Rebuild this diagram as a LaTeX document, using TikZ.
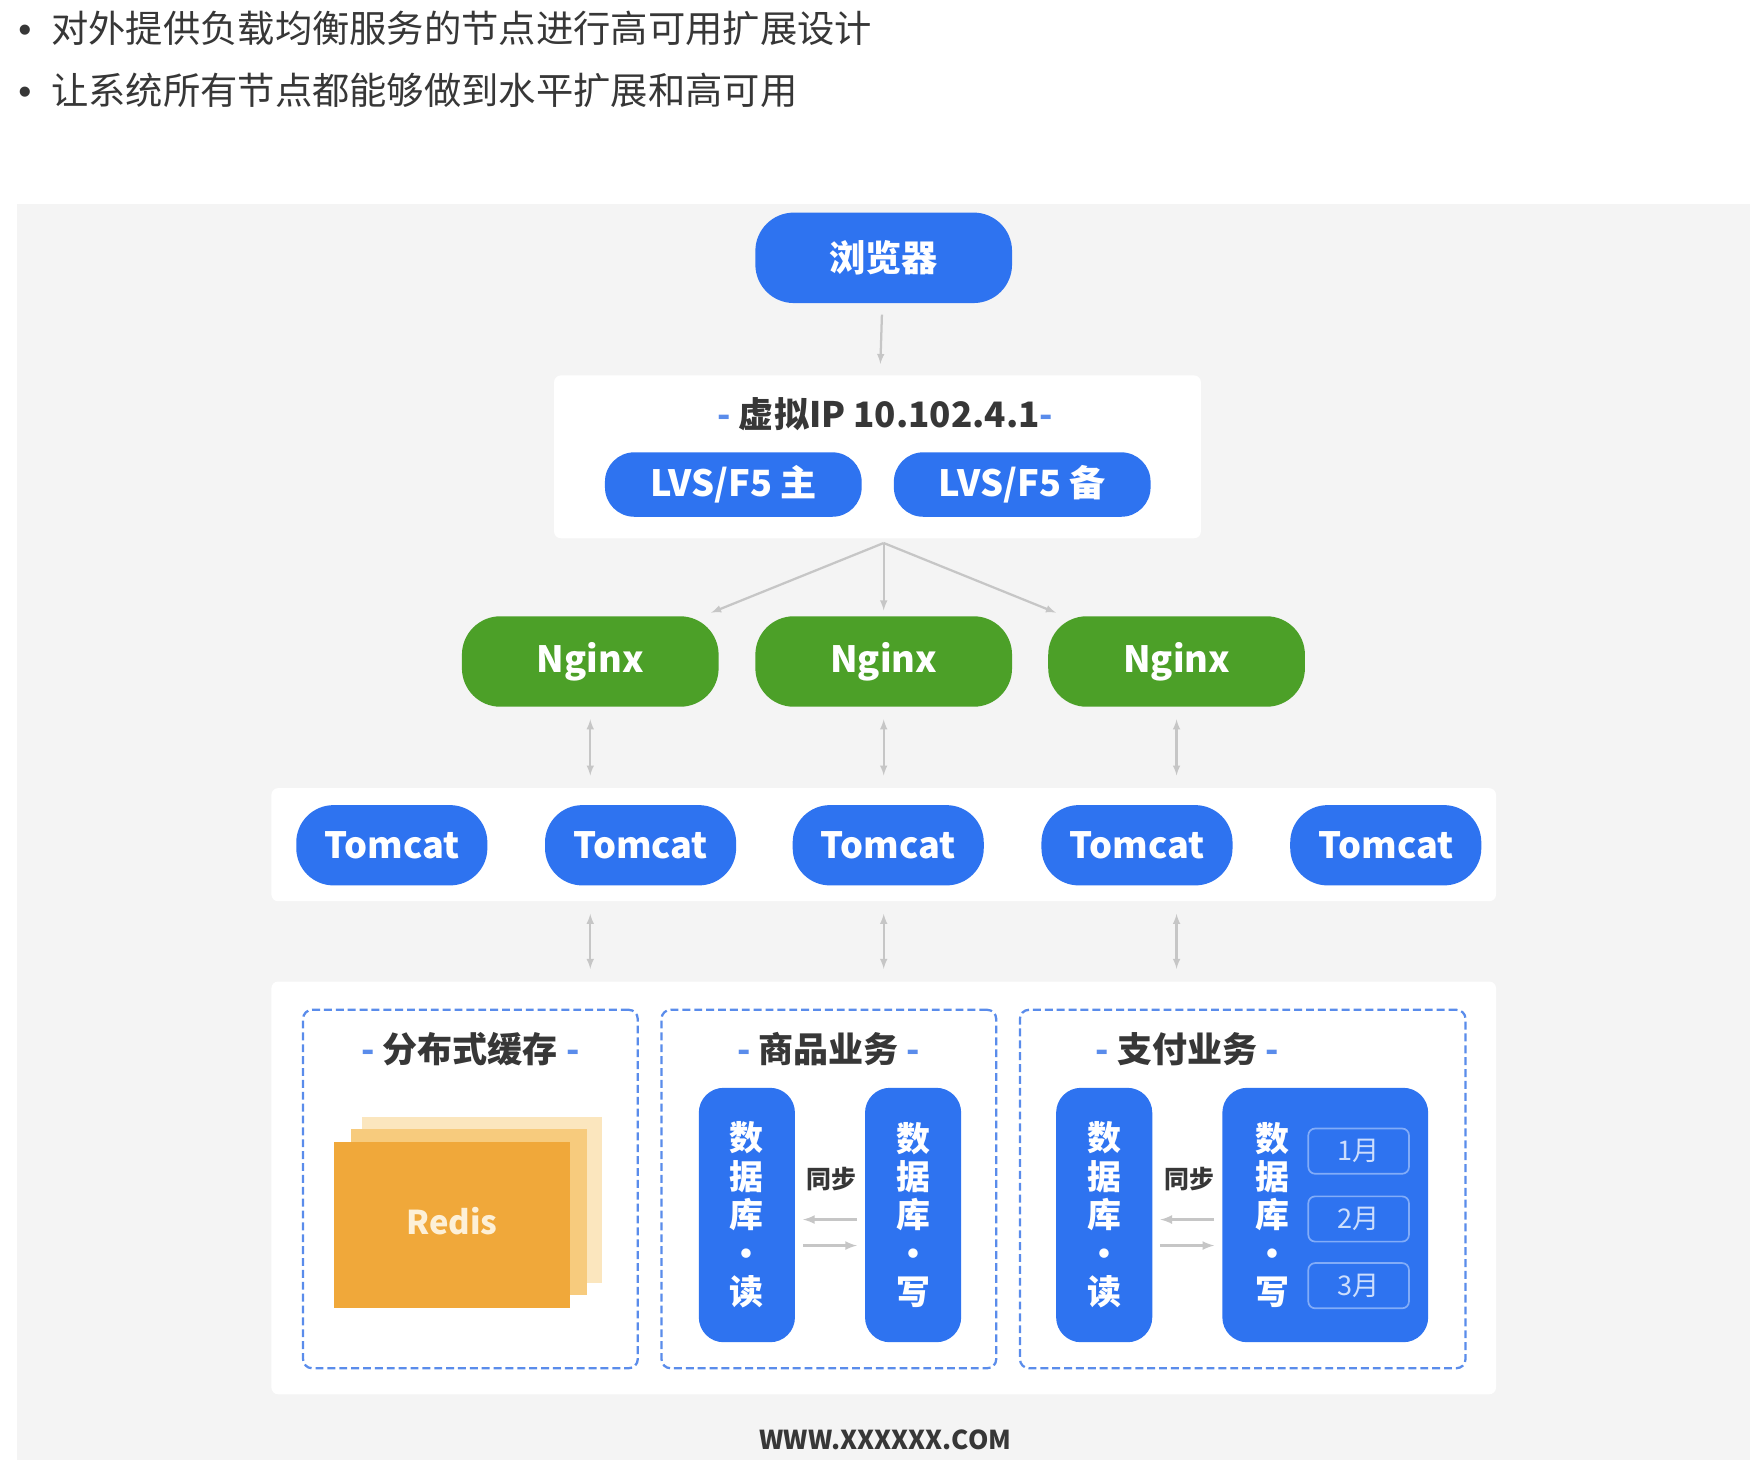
\documentclass[tikz,border=0pt]{standalone}
\usepackage{fontspec}
\setmainfont{Noto Sans CJK SC}
\newfontfamily\bulletfont{Liberation Sans}
\usetikzlibrary{positioning}
\definecolor{pillblue}{RGB}{46,115,240}
\definecolor{pillgreen}{RGB}{76,160,40}
\definecolor{panelgray}{RGB}{244,244,244}
\definecolor{linegray}{RGB}{198,198,198}
\definecolor{dashblue}{RGB}{90,140,235}
\definecolor{textdark}{RGB}{55,55,55}
\definecolor{redisfront}{RGB}{240,168,58}
\definecolor{redismid}{RGB}{247,203,125}
\definecolor{redisback}{RGB}{251,230,190}
\definecolor{redistext}{RGB}{253,240,215}
\definecolor{monthline}{RGB}{130,172,248}
\definecolor{monthtext}{RGB}{205,222,253}
\newcommand{\setfs}[1]{\fontsize{#1}{#1}\selectfont}
\newcommand{\grouptitle}[1]{\textcolor{dashblue}{-}\ #1\ \textcolor{dashblue}{-}}

\begin{document}
\begin{tikzpicture}[x=1pt,y=1pt,
  pill/.style={rectangle,rounded corners=34pt,fill=pillblue,text=white,font=\bfseries\setfs{32},minimum width=227pt,minimum height=80pt,inner sep=0pt},
  ngx/.style={pill,fill=pillgreen},
  lvs/.style={pill,minimum height=57pt,rounded corners=26pt},
  tomcat/.style={pill,minimum width=169pt,minimum height=71pt,rounded corners=33pt},
  dbcol/.style={rectangle,rounded corners=22pt,fill=pillblue,text=white,font=\bfseries\fontsize{30}{34}\selectfont,minimum width=85pt,minimum height=225pt,align=center,inner sep=0pt},
  whitebox/.style={rectangle,rounded corners=6pt,fill=white,inner sep=0pt},
  groupbox/.style={rectangle,rounded corners=8pt,draw=dashblue,dash pattern=on 7pt off 3.5pt,line width=2pt,inner sep=0pt,minimum height=317pt},
  title/.style={text=textdark,font=\bfseries\setfs{31}},
  month/.style={rectangle,rounded corners=6pt,draw=monthline,line width=1.5pt,text=monthtext,font=\setfs{24},minimum width=89pt,minimum height=40pt},
  conn/.style={draw=linegray,line width=2pt,-latex},
  dconn/.style={conn,latex-latex,shorten <=11pt,shorten >=11pt},
  sync/.style={draw=linegray,line width=2.5pt,-latex,shorten <=7pt,shorten >=7pt}]
\useasboundingbox (0,0) rectangle (1560,-1291);
\fill[white] (0,0) rectangle (1560,-1291);
\fill[panelgray] (15,-180) rectangle (1548,-1291);
\node[anchor=west,inner sep=0pt,text=textdark,font=\setfs{33}] (pt1) at (14,-25) {\makebox[31pt][l]{\hspace{2pt}\bulletfont •}对外提供负载均衡服务的节点进行高可用扩展设计};
\node[anchor=west,inner sep=0pt,text=textdark,font=\setfs{33}] (pt2) at (14,-80) {\makebox[31pt][l]{\hspace{2pt}\bulletfont •}让系统所有节点都能够做到水平扩展和高可用};
\node[pill] (browser) at (781.5,-228) {浏览器};
\node[whitebox,minimum width=572pt,minimum height=144pt] (vipbox) at (776,-404) {};
\node[title] (vip) at (783,-366) {\textcolor{dashblue}{-}\ 虚拟IP 10.102.4.1\textcolor{dashblue}{-}};
\node[lvs] (lvsmain) at (648.5,-428.5) {LVS/F5 主};
\node[lvs] (lvsbak) at (904,-428.5) {LVS/F5 备};
\node[ngx] (ng1) at (522,-585) {Nginx};
\node[ngx] (ng2) at (781.5,-585) {Nginx};
\node[ngx] (ng3) at (1040.5,-585) {Nginx};
\node[whitebox,minimum width=1083pt,minimum height=100pt] (tcbox) at (781.5,-747) {};
\foreach \i/\x in {1/346.5,2/566.5,3/785.5,4/1005.5,5/1225.5}
  \node[tomcat] (tc\i) at (\x,-747.5) {Tomcat};
\node[whitebox,minimum width=1083pt,minimum height=365pt] (dbbox) at (781.5,-1050.5) {};
\node[groupbox,minimum width=296pt] (cache) at (416,-1051.5) {};
\node[groupbox,minimum width=296pt] (goods) at (733,-1051.5) {};
\node[groupbox,minimum width=394pt] (pay) at (1099,-1051.5) {};
\node[title] (t1) at (416,-928) {\grouptitle{分布式缓存}};
\node[title] (t2) at (733,-928) {\grouptitle{商品业务}};
\node[title] (t3) at (1050,-928) {\grouptitle{支付业务}};
\node[fill=redisback,minimum width=212pt,minimum height=147pt,inner sep=0pt] (rsback) at (426,-1061.5) {};
\node[fill=redismid,minimum width=209pt,minimum height=147pt,inner sep=0pt] (rsmid) at (414.5,-1071.5) {};
\node[fill=redisfront,minimum width=209pt,minimum height=147pt,inner sep=0pt,text=redistext,font=\bfseries\setfs{29}] (redis) at (399.5,-1083.5) {\raisebox{7pt}{Redis}};
\node[dbcol] (rd1) at (660.5,-1074.5) {数\\据\\库\\·\\读};
\node[dbcol] (wr1) at (807.5,-1074.5) {数\\据\\库\\·\\写};
\node[dbcol] (rd2) at (976.5,-1074.5) {数\\据\\库\\·\\读};
\node[dbcol,minimum width=182pt] (wr2) at (1172,-1074.5) {};
\node[text=white,font=\bfseries\fontsize{30}{34}\selectfont,align=center,inner sep=0pt] (wr2lbl) at (1125,-1074.5) {数\\据\\库\\·\\写};
\foreach \m/\y in {1/-1018,2/-1078,3/-1137}
  \node[month] (mon\m) at (1201.5,\y) {\m 月};
\node[text=textdark,font=\bfseries\setfs{22}] (sy1) at (735,-1043) {同步};
\node[text=textdark,font=\bfseries\setfs{22}] (sy2) at (1052,-1043) {同步};
\node[text=textdark,font=\bfseries\setfs{23}] (site) at (783,-1273) {WWW.XXXXXX.COM};
\draw[conn,shorten <=10pt,shorten >=10pt] (browser) -- (vipbox);
\path (browser |- vipbox.south) ++(0,-4) coordinate (fan);
\draw[conn,shorten >=8pt] (fan) -- (ng1);
\draw[conn,shorten >=5pt] (fan) -- (ng2);
\draw[conn,shorten >=8pt] (fan) -- (ng3);
\foreach \n in {1,2,3} {
  \draw[dconn] (ng\n) -- (ng\n |- tcbox.north);
  \draw[dconn] (ng\n |- tcbox.south) -- (ng\n |- dbbox.north);
}
\draw[sync] ([yshift=-4pt]wr1.west) -- ([yshift=-4pt]rd1.east);
\draw[sync] ([yshift=-27pt]rd1.east) -- ([yshift=-27pt]wr1.west);
\draw[sync] ([yshift=-4pt]wr2.west) -- ([yshift=-4pt]rd2.east);
\draw[sync] ([yshift=-27pt]rd2.east) -- ([yshift=-27pt]wr2.west);
\end{tikzpicture}
\end{document}
